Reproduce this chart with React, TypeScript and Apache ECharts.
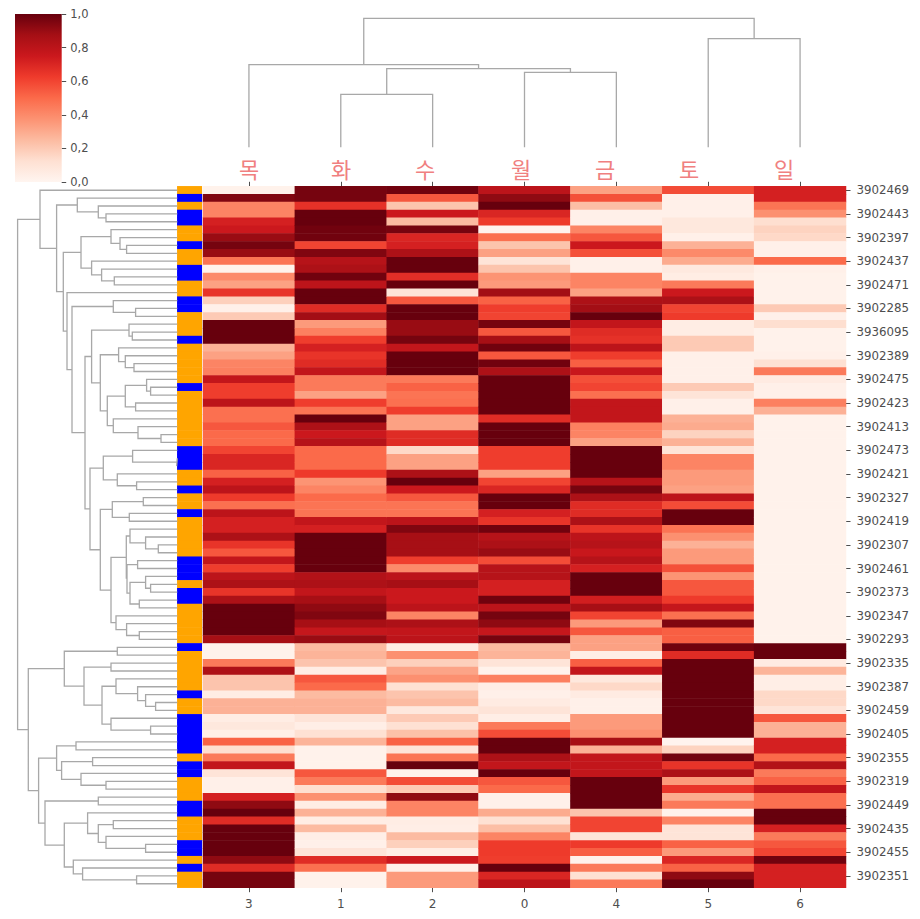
import React, { useEffect, useRef } from "react";
import * as echarts from "echarts";

const columnLabels = ["3", "1", "2", "0", "4", "5", "6"];
const dayLabels = ["목", "화", "수", "월", "금", "토", "일"];
const dayLabelX = [249, 341, 425, 521, 605, 689, 784];

const rowLabels = [
  "3902469", "3902443", "3902397", "3902437", "3902471", "3902285", "3936095", "3902389", "3902475", "3902423",
  "3902413", "3902473", "3902421", "3902327", "3902419", "3902307", "3902461", "3902373", "3902347", "3902293",
  "3902335", "3902387", "3902459", "3902405", "3902355", "3902319", "3902449", "3902435", "3902455", "3902351",
];

const col3 = [
  .02, .95, .42, .42, .72, .75, .9, .97, .9, .47,
  .02, .4, .33, .65, .18, .03, .2, 1, 1, 1,
  .28, .33, .42, .43, .78, .62, .62, .8, .48, .48,
  .55, .5, .5, .6, .7, .7, .52, .72, .8, .63,
  .48, .8, .72, .72, .85, .65, .55, .78, .62, .8,
  .85, .65, .85, 1, 1, 1, 1, .87, .02, .02,
  .45, .85, .22, .22, .05, .28, .28, .05, .08, .04,
  .52, .13, .45, .78, .1, .03, .03, .72, .92, 1,
  .68, 1, 1, 1, 1, .92, .68, .97, .97,
];
const col1 = [
  .97, .97, .66, 1, 1, .98, .98, .6, .95, .82,
  .85, .98, .8, 1, 1, .68, .88, .35, .43, .62,
  .72, .65, .68, .78, .45, .45, .33, .62, .47, 1,
  .85, .75, .82, .5, .5, .5, .63, .37, .42, .5,
  .47, .47, .78, .72, 1, 1, 1, 1, 1, .83,
  .85, .78, .87, .92, .95, .87, .77, .9, .25, .27,
  .22, .05, .55, .5, .25, .28, .28, .1, .04, .12,
  .27, .02, .02, .02, .55, .45, .13, .38, .05, .28,
  .05, .25, .04, .03, .1, .68, .48, .02, .02,
];
const col2 = [
  .98, .55, .22, .75, .25, .97, .7, .72, .85, 1,
  1, .67, 1, .1, .55, 1, 1, .9, .9, .97,
  .78, 1, 1, 1, .45, .52, .47, .48, .62, .33,
  .33, .68, .68, .15, .33, .33, .85, 1, .75, .55,
  .47, .47, .8, .95, .87, .87, .87, .62, .4, .8,
  .87, .75, .75, .8, .42, .85, .78, .8, .05, .38,
  .18, .32, .38, .12, .22, .25, .08, .2, .12, .23,
  .52, .1, .47, 1, .02, .58, .2, .92, .42, .42,
  .05, .04, .25, .18, .05, .75, .03, .35, .35,
];
const col0 = [
  .8, .92, 1, .7, .63, .01, .48, .22, .33, .1,
  .22, .37, .35, .88, .52, .62, .6, .97, .55, .87,
  .98, .55, .98, .85, 1, 1, 1, 1, 1, .68,
  1, 1, 1, .62, .62, .62, .33, .6, .7, 1,
  1, .72, .65, .98, .82, .85, .9, .58, .82, .82,
  .72, .72, .98, .8, .97, .92, .77, .97, .25, .27,
  .1, .02, .43, .04, .03, .06, .1, .04, .45, .58,
  1, 1, .85, .78, 1, .55, .5, .03, .03, .3,
  .12, .24, .42, .63, .63, .62, 1, .7, .8,
];
const col4 = [
  .33, .57, .24, .03, .03, .42, .55, .75, .57, .03,
  .03, .42, .42, .33, .85, .88, 1, .78, .68, .66,
  .8, .62, .53, .76, .57, .6, .48, .78, .78, .78,
  .43, .42, .33, 1, 1, 1, 1, .82, .97, .85,
  .68, .68, .85, .65, .8, .82, .76, .82, .72, 1,
  1, 1, .73, .87, .6, .35, .55, .33, .33, .04,
  .53, .78, .08, .15, .06, .03, .03, .35, .35, .38,
  .87, .28, .78, .78, .78, 1, 1, 1, 1, .22,
  .6, .6, .1, .63, .53, .02, .45, .12, .45,
];
const col5 = [
  .58, .03, .03, .03, .08, .08, .03, .28, .4, .3,
  .07, .05, .45, .75, .85, .6, .63, .05, .05, .2,
  .2, .03, .03, .03, .03, .2, .1, .03, .03, .28,
  .3, .17, .28, .1, .42, .42, .35, .35, .33, .8,
  .58, 1, 1, .47, .38, .28, .35, .35, .57, .37,
  .55, .55, .63, .77, .48, .95, .53, .53, .98, .68,
  1, 1, 1, 1, 1, 1, 1, 1, 1, 1,
  .01, .17, .98, .65, .85, .35, .65, .3, .45, .02,
  .42, .1, .1, .52, .35, .7, .52, .92, 1,
];
const col6 = [
  .72, .72, .47, .38, .13, .17, .15, .03, .03, .5,
  .03, .02, .02, .02, .02, .2, .03, .13, .02, .02,
  .02, .03, .12, .45, .06, .03, .03, .43, .28, .02,
  .02, .02, .02, .02, .02, .02, .02, .02, .02, .02,
  .02, .02, .02, .02, .02, .02, .02, .02, .02, .02,
  .02, .02, .02, .02, .02, .02, .02, .02, 1, 1,
  .06, .27, .04, .04, .15, .15, .1, .55, .28, .28,
  .72, .72, .5, .83, .45, .52, .78, .48, .48, 1,
  1, .72, .45, .55, .6, .98, .72, .72, .72,
];
const columns = [col3, col1, col2, col0, col4, col5, col6];

const blueRows = [1, 3, 4, 7, 10, 11, 14, 15, 19, 25, 33, 34, 35, 38, 41, 47, 48, 49, 51, 52, 58, 64, 67, 68, 69, 70, 71, 73, 74, 78, 79, 83, 84, 86];

// Dendrograms: a node is [distance, first child, second child], a leaf is 0.
const columnTree: any = [129, [82.6, 0, [78.6, [53, 0, 0], [75, 0, 0]]], [108.6, 0, 0]];

const upperRowTree: any = [137.3, 0,
  [120.7,
    [100, 0, [79, 0, [71.3, 0, 0]]],
    [114,
      [96.3, [66.3, 0, [57.3, 0, [50.7, 0, 0]]], [85.7, 0, [75.7, 0, [63, 0, 0]]]],
      [110.3, 0,
        [105.3,
          [64, 0, [41.7, 0, 0]],
          [92.3,
            [85.7,
              [48.3, 0, [45, 0, 0]],
              [77,
                [58.7, 0, [52, 0, [43.3, 0, 0]]],
                [70,
                  [52, [30.7, 0, [26.7, 0, 0]], [41.7, 0, 0]],
                  [64, 0, [39.3, 0, [16.3, 0, 0]]],
                ],
              ],
            ],
            [87.3,
              [74, [44.7, 0, [0.7, 0, 0]], [60, 0, [40.7, 0, 0]]],
              [77,
                [65, [34, 0, 0], [48, 0, 0]],
                [66.3,
                  [51,
                    [47.3, 0, [31.7, 0, [19, 0, 0]]],
                    [50.3, [39.7, 0, 0], [47.3, [31.7, 0, [26.7, 0, 0]], [38, 0, 0]]],
                  ],
                  [61.3, 0, [50.7, 0, [38, 0, 0]]],
                ],
              ],
            ],
          ],
        ],
      ],
    ],
  ],
];

const lowerRowTree: any = [149,
  [113,
    [60, 0, 0],
    [93.3,
      [66.3, 0, 0],
      [75.3,
        [61.3, 0, [39.7, 0, [31.7, 0, [21.7, 0, 0]]]],
        [66.3, 0, [26.7, 0, 0]],
      ],
    ],
  ],
  [138.7,
    [120.7,
      [101.3, 0, 0],
      [115.7, [84.7, 0, 0], [96.3, 0, [71.3, 0, 0]]],
    ],
    [132.3,
      [79, 0, 0],
      [113,
        [89.7, 0, [79, [64, 0, 0], [71.3, 0, [31.7, 0, 0]]]],
        [104, 0, [94.7, 0, [40.7, 0, 0]]],
      ],
    ],
  ],
];

const rowTree: any = [159.7, upperRowTree, lowerRowTree];

const redsStops = ["#fff5f0", "#fee0d2", "#fcbba1", "#fc9272", "#fb6a4a", "#ef3b2c", "#cb181d", "#a50f15", "#67000d"];
const colorbarTicks = [0, 1];

function treeSegments(tree: any): number[][] {
  const out: number[][] = [];
  let leaf = 0;
  const walk = (node: any): { pos: number; d: number } => {
    if (!Array.isArray(node)) return { pos: leaf++ + 0.5, d: 0 };
    const a = walk(node[1]);
    const b = walk(node[2]);
    out.push([a.pos, a.d], [a.pos, node[0]], [b.pos, node[0]], [b.pos, b.d], [NaN, NaN]);
    return { pos: (a.pos + b.pos) / 2, d: node[0] };
  };
  walk(tree);
  return out;
}

const TEXT = "#4e4e4e";
const LINE = "#a8a8a8";
const FONT = "DejaVu Sans";

export default function App() {
  const ref = useRef<HTMLDivElement>(null);
  useEffect(() => {
    document.body.style.margin = "0";
    document.body.style.background = "#fff";
    const chart = echarts.init(ref.current!, undefined, { renderer: "svg" });
    const rowCount = col3.length;
    const rowCats = Array.from({ length: rowCount }, (_, i) => (i % 3 === 0 ? rowLabels[i / 3] : String(i)));
    const heat: number[][] = [];
    columns.forEach((col, x) => col.forEach((v, y) => heat.push([x, y, v])));
    const strip = Array.from({ length: rowCount }, (_, i) => [0, i, blueRows.includes(i) ? 1 : 0]);
    const rowLines = treeSegments(rowTree).map(([p, d]) => [d, p]);
    const colLines = treeSegments(columnTree);
    const GT = 186.3;
    const GH = 701.4;

    chart.setOption({
      animation: false,
      backgroundColor: "#fff",
      textStyle: { fontFamily: FONT },
      grid: [
        { left: 203, top: GT, width: 643, height: GH },
        { left: 177.3, top: GT, width: 24.5, height: GH },
        { left: 10, top: GT, width: 167.3, height: GH },
        { left: 203, top: 7.3, width: 643, height: 140 },
        { left: 15, top: 14, width: 46.7, height: 168 },
      ],
      xAxis: [
        {
          type: "category", gridIndex: 0, data: columnLabels, position: "bottom",
          axisLine: { show: false },
          axisTick: { show: true, length: 4.5, alignWithLabel: true, lineStyle: { color: TEXT, width: 1 } },
          axisLabel: { color: TEXT, fontSize: 12, margin: 10, fontFamily: FONT },
          splitLine: { show: false },
        },
        {
          type: "category", gridIndex: 0, data: columnLabels, position: "top",
          axisLine: { show: false },
          axisTick: { show: true, length: 4.5, alignWithLabel: true, lineStyle: { color: TEXT, width: 1 } },
          axisLabel: { show: false },
          splitLine: { show: false },
        },
        { type: "category", gridIndex: 1, data: ["group"], show: false },
        { type: "value", gridIndex: 2, min: 0, max: 167.3, inverse: true, show: false },
        { type: "value", gridIndex: 3, min: 0, max: 7, show: false },
        { type: "category", gridIndex: 4, data: ["scale"], show: false },
      ],
      yAxis: [
        {
          type: "category", gridIndex: 0, data: rowCats, inverse: true, position: "right",
          axisLine: { show: false },
          axisTick: { show: true, length: 4.5, alignWithLabel: true, interval: 2, lineStyle: { color: TEXT, width: 1 } },
          axisLabel: { color: TEXT, fontSize: 11.8, margin: 10.5, interval: 2, fontFamily: FONT, padding: [3, 0, 0, 0] },
          splitLine: { show: false },
        },
        { type: "category", gridIndex: 1, data: rowCats, inverse: true, show: false },
        { type: "value", gridIndex: 2, min: 0, max: rowCount, inverse: true, show: false },
        { type: "value", gridIndex: 3, min: 0, max: 140, show: false },
        {
          type: "value", gridIndex: 4, min: colorbarTicks[0], max: colorbarTicks[1], interval: 0.2, position: "right",
          axisLine: { show: false },
          axisTick: { show: true, length: 4.5, lineStyle: { color: TEXT, width: 1 } },
          axisLabel: {
            color: TEXT, fontSize: 11.5, margin: 8.5, fontFamily: FONT, padding: [3, 0, 0, 0],
            formatter: (v: number) => v.toFixed(1).replace(".", ","),
          },
          splitLine: { show: false },
        },
      ],
      visualMap: [
        { type: "continuous", show: false, seriesIndex: 0, dimension: 2, min: 0, max: 1, inRange: { color: redsStops } },
        { type: "continuous", show: false, seriesIndex: 1, dimension: 2, min: 0, max: 1, inRange: { color: ["#ffa500", "#0000ff"] } },
      ],
      series: [
        { type: "heatmap", xAxisIndex: 0, yAxisIndex: 0, data: heat, silent: true, itemStyle: { borderWidth: 0 } },
        { type: "heatmap", xAxisIndex: 2, yAxisIndex: 1, data: strip, silent: true, itemStyle: { borderWidth: 0 } },
        {
          type: "line", xAxisIndex: 3, yAxisIndex: 2, data: rowLines, symbol: "none", clip: false, silent: true,
          connectNulls: false, lineStyle: { color: LINE, width: 1.3, join: "miter" },
        },
        {
          type: "line", xAxisIndex: 4, yAxisIndex: 3, data: colLines, symbol: "none", clip: false, silent: true,
          connectNulls: false, lineStyle: { color: LINE, width: 1.3, join: "miter" },
        },
        {
          type: "bar", xAxisIndex: 5, yAxisIndex: 4, data: [1], barWidth: "100%", silent: true,
          itemStyle: {
            color: {
              type: "linear", x: 0, y: 1, x2: 0, y2: 0,
              colorStops: redsStops.map((color, i) => ({ offset: i / (redsStops.length - 1), color })),
            },
          },
        },
      ],
      graphic: dayLabels.map((t, i) => ({
        type: "text",
        x: dayLabelX[i],
        y: 168,
        silent: true,
        style: {
          text: t,
          fontSize: 22,
          fontFamily: "Noto Sans CJK KR",
          fill: "#f08080",
          textAlign: "center",
          textVerticalAlign: "middle",
        },
      })),
    });
    return () => chart.dispose();
  }, []);
  return <div ref={ref} style={{ width: 920, height: 919 }} />;
}
